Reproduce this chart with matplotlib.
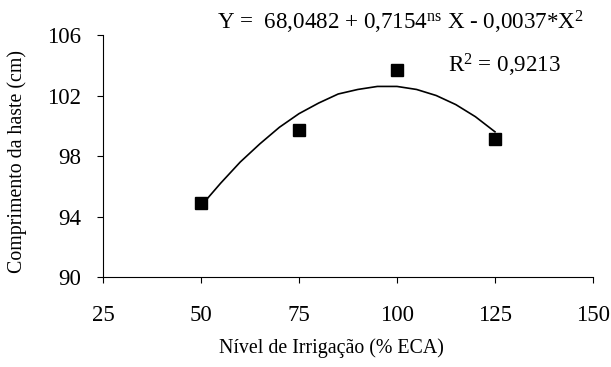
import matplotlib.pyplot as plt

plt.rcParams["font.family"] = ["Liberation Serif", "DejaVu Serif"]
plt.rcParams["mathtext.fontset"] = "custom"
plt.rcParams["mathtext.rm"] = "Liberation Serif"
plt.rcParams["mathtext.it"] = "Liberation Serif:italic"

# observed means
irrigacao = [50, 75, 100, 125]
comprimento = [94.9, 99.7, 103.7, 99.1]

# fitted curve
curva_x = [50, 55, 60, 65, 70, 75, 80, 85, 90, 95, 100, 105, 110, 115, 120, 125]
curva_y = [94.7, 96.2, 97.6, 98.8, 99.9, 100.8, 101.5, 102.1, 102.4, 102.6,
           102.6, 102.4, 102.0, 101.4, 100.6, 99.6]

x_ticks = [25, 50, 75, 100, 125, 150]
y_ticks = [90, 94, 98, 102, 106]

fig = plt.figure(figsize=(6.11, 3.67), dpi=100)
ax = fig.add_axes([0.1686, 0.2452, 0.8019, 0.6594])

ax.plot(curva_x, curva_y, color="black", linewidth=1.2)
ax.plot(irrigacao, comprimento, linestyle="none", marker="s", markersize=8,
        color="black")

ax.set_xlim(25, 150)
ax.set_ylim(90, 106)
ax.set_xticks(x_ticks)
ax.set_yticks(y_ticks)
ax.spines["top"].set_visible(False)
ax.spines["right"].set_visible(False)
ax.tick_params(axis="both", direction="out", length=4.5, width=0.8,
               labelsize=16.5)
ax.tick_params(axis="y", pad=11.5)
ax.tick_params(axis="x", pad=16)

fig.text(0.028, 0.559, "Comprimento da haste (cm)", rotation=90,
         ha="center", va="center", fontsize=14.3)
fig.text(0.542, 0.052, "Nível de Irrigação (% ECA)", ha="center",
         va="center", fontsize=14.3)

fig.text(0.355, 0.94, r"Y =  68,0482 + 0,7154$^{\mathrm{ns}}$ X - 0,0037*X$^{2}$",
         ha="left", va="center", fontsize=16.6)
fig.text(0.733, 0.823, r"R$^{2}$ = 0,9213", ha="left", va="center",
         fontsize=16.6)

fig.savefig("out.png", dpi=100)
